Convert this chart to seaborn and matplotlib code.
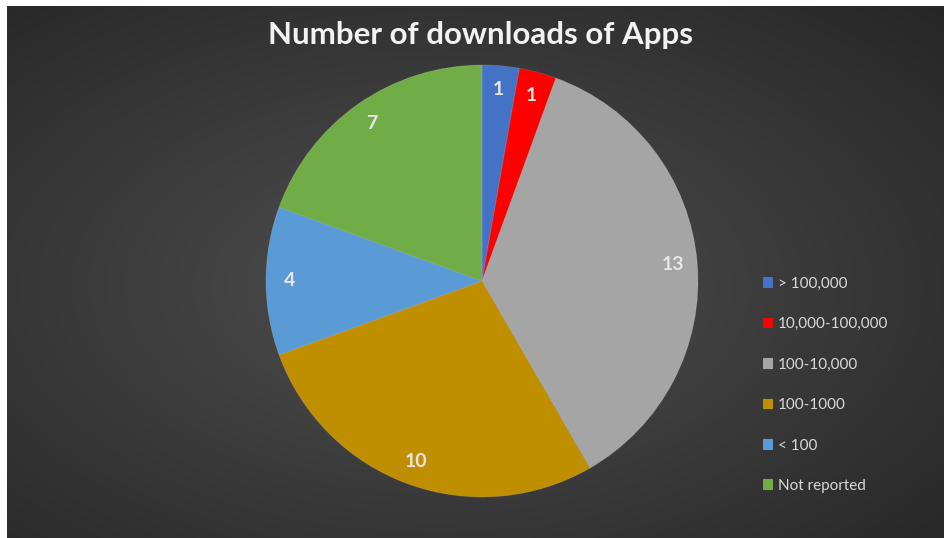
"""Pie chart: number of downloads of apps, dark Excel-style theme."""

import matplotlib
matplotlib.use("Agg")
import matplotlib.patches as mpatches
import matplotlib.pyplot as plt
import numpy as np
import seaborn as sns

categories = ["> 100,000", "10,000-100,000", "100-10,000", "100-1000", "< 100", "Not reported"]
counts = [1, 1, 13, 10, 4, 7]
colors = ["#4472C4", "#FF0000", "#A5A5A5", "#BF8F00", "#5B9BD5", "#70AD47"]

sns.set_theme(style="white")
plt.rcParams["font.family"] = ["Lato", "DejaVu Sans"]

W, H = 945, 538
fig = plt.figure(figsize=(W / 100, H / 100), dpi=100)
fig.patch.set_facecolor("white")

# radial gradient background, offset by the white margin at top/left
bg = fig.add_axes([7 / W, 0, 1 - 7 / W, 1 - 6 / H])
yy, xx = np.mgrid[0:200, 0:350]
r = np.hypot((xx - 160) / 350, (yy - 105) / 200)
r = np.clip(r / r.max(), 0, 1)
shade = 0.31 - 0.16 * r
bg.imshow(np.dstack([shade, shade, shade]), aspect="auto", interpolation="bilinear")
bg.set_axis_off()

cx, cy, rad = 482, 281, 216
ax = fig.add_axes([(cx - rad) / W, (H - cy - rad) / H, 2 * rad / W, 2 * rad / H])
total = sum(counts)
wedges, _, autotexts = ax.pie(
    counts, colors=colors, startangle=90, counterclock=False,
    autopct=lambda p: f"{round(p * total / 100)}", pctdistance=0.89,
    wedgeprops={"edgecolor": (1, 1, 1, 0.15), "linewidth": 0.6},
    textprops={"color": "#E6E6E6", "fontsize": 14, "fontweight": "bold"},
)
ax.set_xlim(-1, 1)
ax.set_ylim(-1, 1)
ax.set_aspect("equal")
ax.set_axis_off()

fig.text(481 / W, 1 - 35 / H, "Number of downloads of Apps", ha="center", va="center",
         color="#F2F2F2", fontsize=22.5, fontweight="bold")

handles = [mpatches.Patch(facecolor=c, edgecolor="none", label=l) for c, l in zip(colors, categories)]
leg = fig.legend(handles=handles, loc="center left", bbox_to_anchor=(749 / W, 1 - 385 / H),
                 frameon=False, fontsize=11, labelcolor="#D9D9D9",
                 handlelength=0.7, handleheight=0.7, handletextpad=0.3, labelspacing=1.73)

fig.savefig("out.png", dpi=100, facecolor=fig.get_facecolor())
